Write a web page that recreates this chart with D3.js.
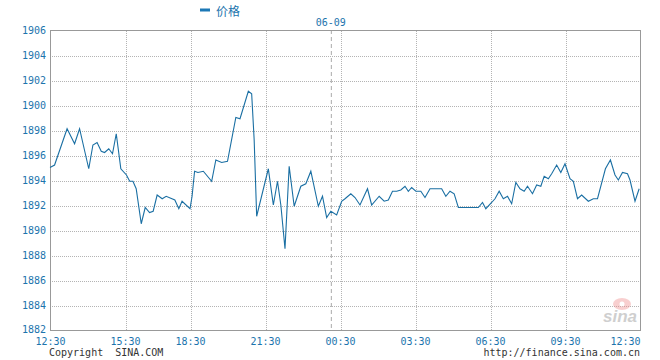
<!DOCTYPE html>
<html>
<head>
<meta charset="utf-8">
<script src="https://cdn.jsdelivr.net/npm/d3@7"></script>
<style>
  body { margin: 0; background: #fff; }
  .tick text { font-family: "DejaVu Sans Mono", monospace; font-size: 10px; fill: #1c74ad; }
  .grid line { stroke: #b4b4b4; stroke-dasharray: 1,1; shape-rendering: crispEdges; }
  .domain { display: none; }
</style>
</head>
<body>
<div id="chart"></div>
<script>
// minutes after 12:30 (06-08) and the price at that moment
var offsets = [0, 11, 41, 59, 71, 93, 103, 113, 123, 131, 141, 150, 159, 170, 184, 193, 202, 211, 225, 236,
  248, 258, 269, 283, 294, 318, 329, 338, 360, 365, 371, 379, 392, 412, 422, 436, 450, 470, 480, 500,
  508, 514, 520, 548, 560, 570, 578, 588, 598, 610, 626, 638, 650, 668, 678, 688, 698, 712, 724, 732,
  746, 756, 768, 786, 796, 814, 826, 836, 846, 856, 866, 876, 884, 892, 902, 914, 924, 936, 964, 974,
  984, 994, 1004, 1052, 1062, 1070, 1084, 1092, 1102, 1112, 1122, 1132, 1142, 1152, 1162, 1170, 1182, 1192, 1202, 1210,
  1220, 1228, 1240, 1250, 1260, 1272, 1280, 1290, 1300, 1316, 1328, 1338, 1357, 1369, 1380, 1388, 1398, 1410, 1416, 1428, 1438];
var prices = [1895.0, 1895.2, 1898.1, 1896.9, 1898.1, 1894.9, 1896.8, 1897.0, 1896.3, 1896.2, 1896.5, 1896.1, 1897.7, 1894.9, 1894.4, 1893.9, 1893.9, 1893.3, 1890.5, 1891.8,
  1891.4, 1891.5, 1892.8, 1892.5, 1892.7, 1892.4, 1891.7, 1892.3, 1891.7, 1892.7, 1894.7, 1894.6, 1894.7, 1893.9, 1895.6, 1895.4, 1895.5, 1899.0, 1898.9, 1901.1,
  1900.9, 1897.2, 1891.1, 1894.9, 1892.0, 1893.9, 1892.0, 1888.5, 1895.1, 1891.9, 1893.5, 1893.7, 1894.7, 1891.9, 1892.7, 1891.0, 1891.5, 1891.2, 1892.3, 1892.5,
  1892.9, 1892.6, 1892.0, 1893.3, 1892.0, 1892.7, 1892.3, 1892.4, 1893.1, 1893.1, 1893.2, 1893.5, 1893.1, 1893.4, 1893.1, 1893.1, 1892.6, 1893.3, 1893.3, 1892.7,
  1893.1, 1892.9, 1891.8, 1891.8, 1892.2, 1891.7, 1892.2, 1892.5, 1893.1, 1892.5, 1892.7, 1892.1, 1893.8, 1893.3, 1893.1, 1893.5, 1892.9, 1893.6, 1893.5, 1894.3,
  1894.1, 1894.5, 1895.2, 1894.6, 1895.3, 1894.1, 1893.9, 1892.5, 1892.8, 1892.3, 1892.5, 1892.5, 1894.9, 1895.6, 1894.4, 1894.0, 1894.6, 1894.5, 1894.0, 1892.3, 1893.3];

var xTickOffsets = [0, 180, 360, 540, 720, 900, 1080, 1260, 1440];
var xTickLabels = ["12:30", "15:30", "18:30", "21:30", "00:30", "03:30", "06:30", "09:30", "12:30"];
var yTicks = [1882, 1884, 1886, 1888, 1890, 1892, 1894, 1896, 1898, 1900, 1902, 1904, 1906];
var dayBreak = { offset: 698, label: "06-09" };
var seriesName = "价格";

var margin = { top: 30, right: 20, bottom: 30, left: 50 },
    width = 660 - margin.left - margin.right,
    height = 360 - margin.top - margin.bottom;

var data = offsets.map(function(o, i) { return { t: o, v: prices[i] }; });

var svg = d3.select("#chart").append("svg")
    .attr("width", 660)
    .attr("height", 360);

var g = svg.append("g")
    .attr("transform", "translate(" + margin.left + "," + margin.top + ")");

// the site squeezes the 15:30-18:30 stretch, so the time axis is piecewise
var x = d3.scaleLinear()
    .domain(xTickOffsets)
    .range([0, 75, 140, 215, 290, 365, 440, 515, 590]);
var y = d3.scaleLinear().domain([1882, 1906]).range([height, 0]);

// horizontal grid + y labels
var yAxis = g.append("g")
    .attr("class", "grid")
    .call(d3.axisLeft(y).tickValues(yTicks).tickSize(-width).tickPadding(4).tickFormat(d3.format("d")));
yAxis.selectAll(".tick line").attr("transform", "translate(0,0.5)");
yAxis.selectAll(".tick").filter(function(d) { return d === 1882 || d === 1906; }).select("line").remove();
yAxis.selectAll(".tick text").filter(function(d) { return d === 1882; }).attr("y", -0.5);

// vertical grid + x labels
var xAxis = g.append("g")
    .attr("class", "grid")
    .attr("transform", "translate(0," + height + ")")
    .call(d3.axisBottom(x).tickValues(xTickOffsets).tickSize(-height).tickPadding(8)
      .tickFormat(function(d, i) { return xTickLabels[i]; }));
xAxis.selectAll(".tick line").attr("transform", "translate(0.5,0)");
xAxis.selectAll(".tick").filter(function(d) { return d === 0 || d === 1440; }).select("line").remove();
xAxis.selectAll(".tick text").filter(function(d) { return d === 1440; }).attr("text-anchor", "end");

// date change marker
g.append("line")
    .attr("x1", x(dayBreak.offset) + 0.5).attr("x2", x(dayBreak.offset) + 0.5)
    .attr("y1", 0).attr("y2", height)
    .style("stroke", "#aaa")
    .style("stroke-dasharray", "4,3");
g.append("text")
    .attr("x", x(dayBreak.offset))
    .attr("y", -4)
    .attr("text-anchor", "middle")
    .style("font-family", "DejaVu Sans Mono, monospace")
    .style("font-size", "10px")
    .style("fill", "#1c74ad")
    .text(dayBreak.label);

// watermark
var wm = g.append("g").attr("transform", "translate(" + (width - 20) + "," + (height - 20) + ")").style("opacity", 0.4);
wm.append("ellipse").attr("cx", 2).attr("cy", -6).attr("rx", 9).attr("ry", 6).style("fill", "#f08a8a");
wm.append("circle").attr("cx", 2).attr("cy", -6).attr("r", 2.5).style("fill", "#fff");
wm.append("text")
    .attr("x", 0).attr("y", 12)
    .attr("text-anchor", "middle")
    .style("font-family", "Liberation Sans, Arial, sans-serif")
    .style("font-size", "17px")
    .style("font-weight", "bold")
    .style("font-style", "italic")
    .style("fill", "#888")
    .text("sina");

// border
g.append("rect")
    .attr("x", 0.5).attr("y", 0.5)
    .attr("width", width).attr("height", height)
    .style("fill", "none")
    .style("stroke", "#999")
    .style("shape-rendering", "crispEdges");

// price line
var line = d3.line()
    .x(function(d) { return x(d.t); })
    .y(function(d) { return y(d.v); });

g.append("path")
    .datum(data)
    .attr("d", line)
    .style("fill", "none")
    .style("stroke", "#1a6fa3")
    .style("stroke-width", 1.1);

// legend
svg.append("rect")
    .attr("x", 200).attr("y", 8.5)
    .attr("width", 10).attr("height", 3)
    .style("fill", "#1c78b6");
svg.append("text")
    .attr("x", 216).attr("y", 15.5)
    .style("font-family", "Noto Sans CJK SC, sans-serif")
    .style("font-size", "12px")
    .style("fill", "#1c74ad")
    .text(seriesName);

// footer
svg.append("text")
    .attr("x", 49).attr("y", 356)
    .style("font-family", "DejaVu Sans Mono, monospace")
    .style("font-size", "10px")
    .style("fill", "#333")
    .style("white-space", "pre")
    .text("Copyright  SINA.COM");
svg.append("text")
    .attr("x", 640).attr("y", 356)
    .attr("text-anchor", "end")
    .style("font-family", "DejaVu Sans Mono, monospace")
    .style("font-size", "10px")
    .style("fill", "#333")
    .text("http://finance.sina.com.cn");
</script>
</body>
</html>
